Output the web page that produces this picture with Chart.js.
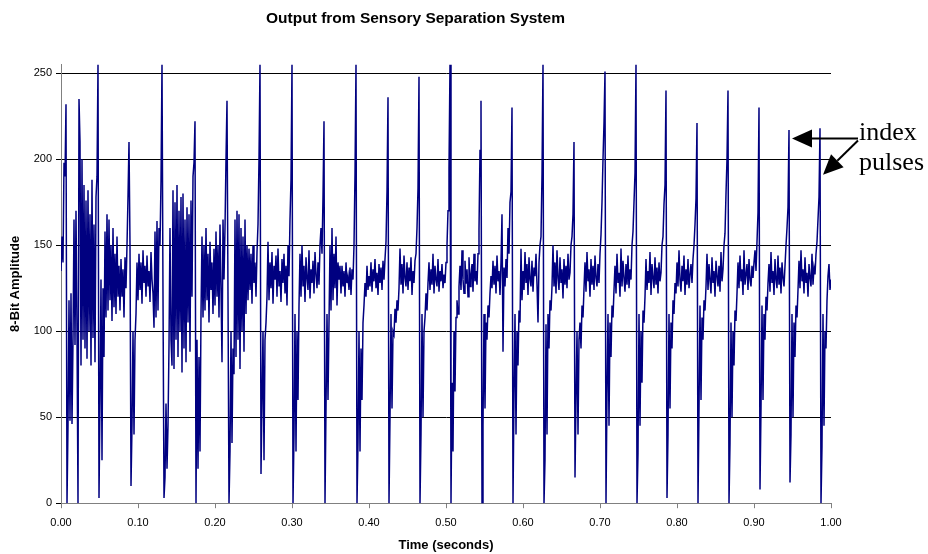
<!DOCTYPE html>
<html>
<head>
<meta charset="utf-8">
<script src="https://cdn.jsdelivr.net/npm/chart.js@4.4.0/dist/chart.umd.min.js"></script>
<style>
  html, body { margin: 0; padding: 0; background: #fff; }
  #wrap { width: 928px; height: 554px; }
</style>
</head>
<body>
<div id="wrap"><canvas id="grafica"></canvas></div>
<script>
// 8-bit amplitude samples, one per pixel column, split per 0.1 s
const seg0 = [135,155,140,198,190,232,0,45,118,48, 122,46,95,165,92,170,100,0,235,210,
  80,200,95,185,90,176,84,182,100,168, 80,188,96,162,82,178,190,255,3,60,
  130,25,125,85,158,108,168,112,165,118, 150,106,160,114,145,110,155,120,138,112,
  142,120,136,108,143,125,150,178,210,150, 10,45,100,40,95,110,140];
const seg1 = [118,145,124,140,116,147,128,138,120,144,126,135,117,146,130,122,
  102,158,108,164,112,160,150,187,
  255,120,3,15,58,20,45,92,160,95,
  80,182,78,175,95,185,85,170,100,178,76,180,90,165,82,172,105,168,88,176,120,190,
  198,222,0,95,20,85,30,110,
  155,108,150,112,160,118,145,105,152,124,140,110,148];
const seg2 = [115,158,120,150,108,162,125,
  82,165,130,160,200,234,120,0,30,100,35,90,75,
  165,85,170,95,168,78,160,100,155,88,165,110,150,
  118,148,124,145,116,150,128,140,120,146,
  162,200,255,17,60,100,25,95,105,120,
  152,118,140,125,146,116,138,130,144,120,148,126,135,117,142,128,145,122,138,115,150,132,
  165,188];
const seg3 = [255,0,40,110,30,100,60,115,
  145,120,150,126,138,117,143,131,124,147,119,136,128,141,122,146,133,125,140,127,
  150,160,145,178,
  222,0,55,110,60,105,
  150,112,160,118,145,125,155,115,140,130,138,
  122,138,126,135,120,140,128,132,124,137,121,136,
  130,150,191,255,0,35,100,30,90,60,105,115,128,120,138,124];
const seg4 = [132,126,140,123,136,129,142,125,134,121,139,128,137,124,141,130,
  142,152,181,236,0,50,110,55,100,98,113,105,118,112,125,
  148,127,139,122,144,131,126,140,124,137,129,143,121,135,128,141,
  145,160,183,248,0,40,110,50,100,108,122,112,128,
  140,124,136,127,145,122,138,130,126,142,123,135,129,139,125,133,128];
const seg5 = [140,150,170,195,255,0,70,30,100,65,108,118,110,126,
  138,124,147,130,122,141,128,136,120,143,126,133,139,123,145,129,135,127,
  145,159,205,234,0,45,110,55,105,95,115,108,122,
  132,125,141,127,138,122,144,129,135,121,140,168,88,137,126,142,131,
  160,145,175,181,230,0,64,110,40,100,80,112,105,148,118];
const seg6 = [135,124,146,128,139,121,143,130,126,141,123,137,132,145,127,
  105,140,150,155,191,255,0,25,104,40,110,90,118,112,126,
  150,126,140,122,147,131,124,143,128,136,119,142,127,138,125,145,130,134,
  150,155,168,210,15,60,100,40,95,105,90,115,108,125,
  140,123,146,129,136,120,142,127,138,124,144,131,126,139,128];
const seg7 = [145,156,175,200,221,251,0,64,110,45,105,85,115,108,124,
  138,122,145,128,134,120,148,126,141,131,123,139,127,144,125,136,130,
  150,158,175,192,255,0,29,110,45,100,70,112,105,120,
  142,124,135,128,146,121,139,131,125,143,127,137,122,140,129,134,
  150,155,174,185,240,3,40,110,55,105,90,118,110,128,122];
const seg8 = [140,126,147,130,123,138,129,144,121,136,127,142,125,133,139,128,
  142,150,162,177,221,0,55,115,60,108,95,118,112,126,
  145,124,139,130,122,143,128,135,120,141,132,126,138,123,146,129,136,
  150,157,180,200,240,0,35,105,50,100,80,112,106,122,
  140,125,144,129,136,121,147,127,133,139,124,142,130,126,138,131];
const seg9 = [140,147,135,152,169,230,8,55,115,60,110,95,120,112,128,
  139,123,146,128,135,121,142,130,125,144,127,137,122,140,131,126,138,
  150,160,172,217,12,40,110,50,105,85,115,108,124,
  141,125,147,129,136,122,143,128,134,120,139,131,126,145,127,137,133,
  145,152,165,178,218,0,33,110,45,100,90,118,132,139,124,130];

const amplitude = [].concat(seg0, seg1, seg2, seg3, seg4, seg5, seg6, seg7, seg8, seg9);
const timeTicks = [0, 0.1, 0.2, 0.3, 0.4, 0.5, 0.6, 0.7, 0.8, 0.9, 1.0];
const ampTicks = [0, 50, 100, 150, 200, 250];
const pulseSamples = [728, 759]; // the two pulses the note points at

const points = amplitude.map((v, i) => ({ x: i / (amplitude.length - 1), y: v }));

function arrow(ctx, x0, y0, x1, y1) {
  const a = Math.atan2(y1 - y0, x1 - x0);
  const len = 20, hw = 9;
  const bx = x1 - len * Math.cos(a), by = y1 - len * Math.sin(a);
  ctx.beginPath();
  ctx.moveTo(x0, y0);
  ctx.lineTo(bx, by);
  ctx.stroke();
  ctx.beginPath();
  ctx.moveTo(x1, y1);
  ctx.lineTo(bx + hw * Math.sin(a), by - hw * Math.cos(a));
  ctx.lineTo(bx - hw * Math.sin(a), by + hw * Math.cos(a));
  ctx.closePath();
  ctx.fill();
}

const indexNote = {
  id: 'indexNote',
  afterDraw(chart) {
    const { ctx, chartArea } = chart;
    const x = chart.scales.x, y = chart.scales.y;
    const n = amplitude.length - 1;
    const tx = chartArea.right + 28;
    const ty = y.getPixelForValue(212);
    ctx.save();
    ctx.fillStyle = '#000';
    ctx.strokeStyle = '#000';
    ctx.lineWidth = 2;
    ctx.font = '26px "Liberation Serif", "Times New Roman", serif';
    ctx.textBaseline = 'alphabetic';
    ctx.fillText('index', tx, ty + 1);
    ctx.fillText('pulses', tx, ty + 31);
    arrow(ctx, tx - 1, ty, x.getPixelForValue(pulseSamples[0] / n) + 3, ty);
    arrow(ctx, tx - 1, ty + 2, x.getPixelForValue(pulseSamples[1] / n) + 3, y.getPixelForValue(191));
    ctx.restore();
  }
};

new Chart(document.getElementById('grafica'), {
  type: 'line',
  data: {
    datasets: [{
      data: points,
      borderColor: '#000080',
      borderWidth: 1.5,
      pointRadius: 0,
      tension: 0,
      fill: false
    }]
  },
  options: {
    responsive: true,
    maintainAspectRatio: false,
    animation: false,
    events: [],
    layout: { padding: { left: 0, right: 97, top: 0, bottom: 0 } },
    plugins: {
      legend: { display: false },
      tooltip: { enabled: false },
      title: {
        display: true,
        text: 'Output from Sensory Separation System',
        color: '#000',
        font: { family: 'Liberation Sans', size: 15.5, weight: 'bold' },
        padding: { top: 9, bottom: 37 }
      }
    },
    scales: {
      x: {
        type: 'linear',
        min: 0,
        max: 1,
        afterBuildTicks: s => { s.ticks = timeTicks.map(v => ({ value: v })); },
        ticks: {
          color: '#000',
          font: { family: 'Liberation Sans', size: 11 },
          padding: 8,
          maxRotation: 0,
          autoSkip: false,
          callback: v => v.toFixed(2)
        },
        grid: { drawOnChartArea: false, tickLength: 5, tickColor: '#808080' },
        border: { color: '#808080' },
        title: {
          display: true,
          text: 'Time (seconds)',
          color: '#000',
          font: { family: 'Liberation Sans', size: 13, weight: 'bold' },
          padding: { top: 0, bottom: 1 }
        }
      },
      y: {
        min: 0,
        max: 255,
        afterBuildTicks: s => { s.ticks = ampTicks.map(v => ({ value: v })); },
        afterFit: s => { s.width = 61; },
        ticks: {
          color: '#000',
          font: { family: 'Liberation Sans', size: 11 },
          padding: 4
        },
        grid: { color: '#000', tickLength: 5, tickColor: '#000' },
        border: { color: '#808080' },
        title: {
          display: true,
          text: '8-Bit Amplitude',
          color: '#000',
          font: { family: 'Liberation Sans', size: 13, weight: 'bold' },
          padding: { top: 8, bottom: 4 }
        }
      }
    }
  },
  plugins: [indexNote]
});
</script>
</body>
</html>
